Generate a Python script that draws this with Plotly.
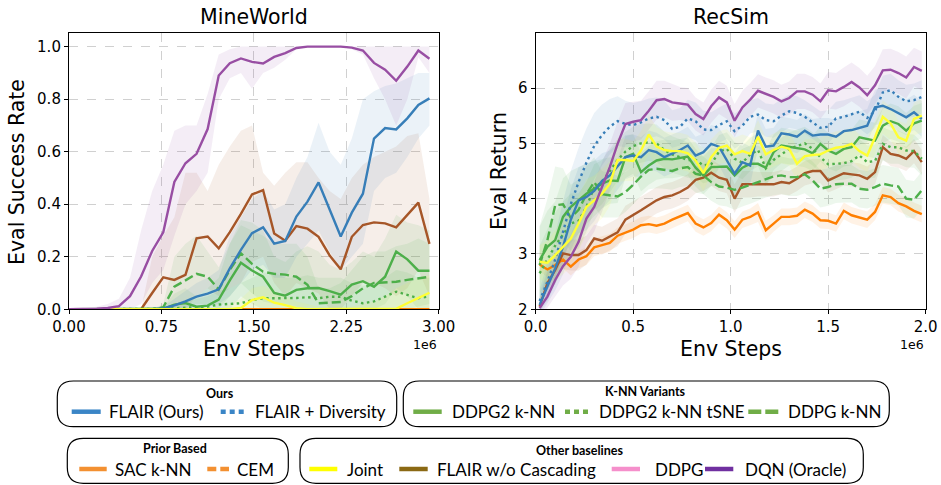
import plotly.graph_objects as go

W, H = 941, 485

# ---------------- data ----------------
mw_steps = [0, 45000, 135000, 225000, 315000, 405000, 495000, 585000, 675000, 765000,
            855000, 945000, 1035000, 1125000, 1215000, 1305000, 1395000, 1485000, 1575000,
            1665000, 1755000, 1845000, 1935000, 2025000, 2115000, 2205000, 2295000, 2385000,
            2475000, 2565000, 2655000, 2745000, 2835000, 2925000]

mw_dqn = [0, 0, 0.001, 0.002, 0.005, 0.012, 0.05, 0.125, 0.222, 0.293, 0.485, 0.556, 0.592, 0.686,
          0.89, 0.937, 0.955, 0.942, 0.936, 0.961, 0.975, 0.995, 1.0, 1.0, 1.0, 1.0, 0.996, 0.985,
          0.938, 0.912, 0.87, 0.924, 0.985, 0.954]
mw_dqn_lo = [0, 0, 0, 0, 0, 0, 0.0, 0.02, 0.1, 0.15, 0.28, 0.4, 0.45, 0.52, 0.8, 0.88, 0.9, 0.84,
             0.9, 0.92, 0.95, 0.99, 1, 1, 1, 1, 0.99, 0.97, 0.88, 0.8, 0.7, 0.8, 0.96, 0.9]
mw_dqn_hi = [0, 0, 0.005, 0.01, 0.02, 0.04, 0.12, 0.3, 0.45, 0.55, 0.68, 0.7, 0.7, 0.82, 0.97, 0.99,
             1.0, 1.0, 1.0, 1.0, 1.0, 1.0, 1, 1, 1, 1, 1.0, 1.0, 1.0, 1.0, 1.0, 1.0, 1.0, 1.0]

mw_flair = [0, 0, 0, 0, 0, 0, 0, 0, 0, 0.003, 0.015, 0.03, 0.048, 0.06, 0.076, 0.156, 0.226, 0.29,
            0.312, 0.25, 0.26, 0.353, 0.41, 0.483, 0.378, 0.277, 0.368, 0.44, 0.65, 0.69, 0.685,
            0.727, 0.778, 0.803]
mw_flair_lo = [0, 0, 0, 0, 0, 0, 0, 0, 0, 0, 0, 0, 0, 0.01, 0.02, 0.05, 0.1, 0.15, 0.17, 0.12, 0.12,
               0.2, 0.25, 0.3, 0.22, 0.15, 0.2, 0.25, 0.45, 0.5, 0.52, 0.58, 0.65, 0.7]
mw_flair_hi = [0, 0, 0, 0, 0, 0, 0, 0, 0, 0.01, 0.04, 0.07, 0.1, 0.12, 0.15, 0.28, 0.35, 0.42, 0.45,
               0.38, 0.4, 0.5, 0.58, 0.71, 0.6, 0.55, 0.65, 0.8, 0.83, 0.85, 0.86, 0.88, 0.9, 0.9]

mw_nocasc = [0, 0, 0, 0, 0, 0, 0, 0, 0.062, 0.122, 0.112, 0.131, 0.27, 0.277, 0.232, 0.294, 0.363,
             0.437, 0.454, 0.289, 0.261, 0.317, 0.307, 0.276, 0.205, 0.152, 0.276, 0.321, 0.331,
             0.327, 0.312, 0.357, 0.406, 0.249]
mw_nocasc_lo = [0, 0, 0, 0, 0, 0, 0, 0, 0, 0, 0, 0, 0.05, 0.08, 0.05, 0.08, 0.1, 0.18, 0.2, 0.1,
                0.05, 0.1, 0.08, 0.06, 0, 0, 0.05, 0.1, 0.1, 0.08, 0.05, 0.08, 0.15, 0.05]
mw_nocasc_hi = [0, 0, 0, 0, 0, 0, 0, 0, 0.2, 0.28, 0.35, 0.52, 0.52, 0.45, 0.55, 0.62, 0.68, 0.7,
                0.52, 0.47, 0.52, 0.56, 0.56, 0.5, 0.45, 0.42, 0.5, 0.55, 0.58, 0.6, 0.62, 0.66,
                0.67, 0.42]

mw_ddpg2 = [0, 0, 0, 0, 0, 0, 0, 0, 0, 0.002, 0.018, 0.024, 0.01, 0.014, 0.037, 0.11, 0.177, 0.148,
            0.124, 0.062, 0.052, 0.074, 0.08, 0.081, 0.069, 0.056, 0.094, 0.107, 0.086, 0.124,
            0.22, 0.19, 0.147, 0.147]
mw_ddpg2_lo = [0, 0, 0, 0, 0, 0, 0, 0, 0, 0, 0, 0, 0, 0, 0, 0, 0.05, 0.02, 0, 0, 0, 0, 0, 0, 0, 0,
               0, 0, 0, 0.02, 0.08, 0.05, 0, 0]
mw_ddpg2_hi = [0, 0, 0, 0, 0, 0, 0, 0, 0, 0.01, 0.06, 0.08, 0.05, 0.08, 0.12, 0.25, 0.34, 0.33,
               0.3, 0.2, 0.18, 0.22, 0.24, 0.22, 0.17, 0.15, 0.18, 0.22, 0.2, 0.27, 0.36, 0.33,
               0.32, 0.3]

mw_ddpg = [0, 0, 0, 0, 0, 0, 0, 0, 0, 0.008, 0.086, 0.11, 0.135, 0.124, 0.076, 0.15, 0.213, 0.173,
           0.143, 0.135, 0.132, 0.124, 0.093, 0.023, 0.025, 0.028, 0.05, 0.08, 0.1, 0.102, 0.105,
           0.112, 0.118, 0.124]
mw_ddpg_lo = [0, 0, 0, 0, 0, 0, 0, 0, 0, 0, 0, 0, 0.02, 0.02, 0, 0.05, 0.1, 0.06, 0.03, 0.02, 0.02,
              0.01, 0, 0, 0, 0, 0, 0, 0, 0, 0, 0, 0.01, 0.02]
mw_ddpg_hi = [0, 0, 0, 0, 0, 0, 0, 0, 0, 0.02, 0.2, 0.25, 0.28, 0.22, 0.16, 0.25, 0.32, 0.3, 0.28,
              0.25, 0.25, 0.25, 0.2, 0.08, 0.08, 0.1, 0.15, 0.2, 0.22, 0.22, 0.24, 0.25, 0.27, 0.25]

mw_tsne = [0, 0, 0, 0, 0, 0, 0, 0, 0, 0.002, 0.004, 0.006, 0.008, 0.01, 0.018, 0.02, 0.023, 0.035,
           0.042, 0.042, 0.042, 0.043, 0.046, 0.042, 0.048, 0.048, 0.033, 0.023, 0.03, 0.048,
           0.067, 0.055, 0.042, 0.05]
mw_tsne_lo = [0, 0, 0, 0, 0, 0, 0, 0, 0, 0, 0, 0, 0, 0, 0, 0, 0, 0, 0, 0, 0, 0, 0, 0, 0, 0, 0, 0,
              0, 0, 0, 0, 0, 0]
mw_tsne_hi = [0, 0, 0, 0, 0, 0, 0, 0, 0, 0.01, 0.02, 0.03, 0.04, 0.05, 0.07, 0.08, 0.1, 0.12, 0.14,
              0.14, 0.12, 0.12, 0.13, 0.12, 0.12, 0.12, 0.1, 0.09, 0.1, 0.12, 0.15, 0.14, 0.12, 0.12]

mw_joint = [0, 0, 0, 0, 0, 0, 0, 0, 0, 0, 0, 0, 0, 0, 0, 0, 0.005, 0.035, 0.046, 0.025, 0.016,
            0.004, 0, 0, 0, 0, 0, 0, 0, 0, 0.002, 0.023, 0.042, 0.063]
mw_joint_lo = [0, 0, 0, 0, 0, 0, 0, 0, 0, 0, 0, 0, 0, 0, 0, 0, 0, 0, 0, 0, 0, 0, 0, 0, 0, 0, 0, 0,
               0, 0, 0, 0, 0, 0]
mw_joint_hi = [0, 0, 0, 0, 0, 0, 0, 0, 0, 0, 0, 0, 0, 0, 0, 0.02, 0.04, 0.08, 0.09, 0.07, 0.05,
               0.03, 0.02, 0.01, 0.01, 0.01, 0.01, 0.02, 0.03, 0.05, 0.08, 0.1, 0.12, 0.13]

mw_sac = [0, 0, 0, 0, 0, 0, 0, 0, 0, 0, 0, 0, 0, 0, 0, 0, 0, 0, 0, 0, 0, 0, 0, 0, 0, 0, 0, 0, 0, 0,
          0, 0, 0, 0]

rs_steps = [20000, 60000, 100000, 140000, 180000, 220000, 260000, 300000, 340000, 380000,
            420000, 460000, 500000, 540000, 580000, 620000, 660000, 700000, 740000, 780000,
            820000, 860000, 900000, 940000, 980000, 1020000, 1060000, 1100000, 1140000, 1180000,
            1220000, 1260000, 1300000, 1340000, 1380000, 1420000, 1460000, 1500000, 1540000,
            1580000, 1620000, 1660000, 1700000, 1740000, 1780000, 1820000, 1860000, 1900000,
            1940000, 1980000]

rs_dqn = [2.02, 2.23, 2.53, 2.78, 2.95, 3.22, 3.64, 3.85, 4.21, 4.57,
          4.99, 5.35, 5.39, 5.42, 5.59, 5.78, 5.80, 5.74, 5.72, 5.70,
          5.53, 5.44, 5.67, 5.83, 5.74, 5.41, 5.65, 5.79, 5.95, 5.89,
          5.84, 5.76, 5.82, 5.94, 5.94, 5.88, 5.76, 5.96, 5.94, 6.02,
          6.11, 6.01, 5.87, 6.05, 6.32, 6.33, 6.27, 6.19, 6.38, 6.31]
rs_dqn_sd = [0.15, 0.2, 0.3, 0.35, 0.4, 0.45, 0.45, 0.45, 0.45, 0.42,
             0.4, 0.38, 0.36, 0.35, 0.35, 0.35, 0.33, 0.33, 0.3, 0.3,
             0.3, 0.3, 0.3, 0.3, 0.3, 0.3, 0.3, 0.3, 0.3, 0.3,
             0.3, 0.3, 0.3, 0.32, 0.32, 0.32, 0.32, 0.33, 0.33, 0.35,
             0.35, 0.35, 0.35, 0.35, 0.38, 0.38, 0.38, 0.38, 0.35, 0.35]

rs_flair = [2.08, 2.41, 2.74, 3.13, 3.62, 3.97, 4.03, 4.14, 4.32, 4.42,
            4.58, 4.75, 4.78, 4.75, 4.88, 4.84, 4.75, 4.81, 4.88, 4.96,
            4.78, 4.84, 4.99, 4.94, 4.69, 4.45, 4.66, 4.6, 5.23, 4.94,
            4.96, 5.18, 5.16, 5.12, 5.23, 5.14, 5.16, 5.16, 5.12, 5.22,
            5.24, 5.28, 5.32, 5.65, 5.68, 5.62, 5.54, 5.47, 5.56, 5.44]
rs_flair_sd = [0.2, 0.3, 0.4, 0.5, 0.55, 0.6, 0.6, 0.55, 0.5, 0.45,
               0.42, 0.4, 0.38, 0.36, 0.35, 0.35, 0.35, 0.35, 0.34, 0.34,
               0.34, 0.34, 0.34, 0.34, 0.36, 0.38, 0.36, 0.34, 0.32, 0.32,
               0.32, 0.3, 0.3, 0.3, 0.3, 0.3, 0.3, 0.3, 0.3, 0.3,
               0.3, 0.3, 0.3, 0.32, 0.32, 0.32, 0.32, 0.32, 0.32, 0.32]

rs_div = [2.15, 2.5, 2.9, 3.4, 3.9, 4.3, 4.65, 4.95, 5.15, 5.3,
          5.4, 5.35, 5.33, 5.38, 5.45, 5.48, 5.42, 5.26, 5.3, 5.45,
          5.4, 5.25, 5.24, 5.33, 5.4, 5.22, 5.32, 5.48, 5.52, 5.42,
          5.4, 5.5, 5.58, 5.55, 5.48, 5.38, 5.28, 5.3, 5.45, 5.48,
          5.53, 5.57, 5.46, 5.58, 5.92, 5.96, 5.84, 5.76, 5.78, 5.84]
rs_div_sd = [0.2, 0.35, 0.45, 0.55, 0.6, 0.62, 0.62, 0.6, 0.55, 0.5,
             0.45, 0.42, 0.4, 0.38, 0.36, 0.35, 0.35, 0.34, 0.34, 0.34,
             0.34, 0.34, 0.32, 0.32, 0.32, 0.32, 0.32, 0.3, 0.3, 0.3,
             0.3, 0.3, 0.3, 0.3, 0.3, 0.3, 0.3, 0.3, 0.3, 0.3,
             0.3, 0.3, 0.3, 0.3, 0.3, 0.3, 0.3, 0.3, 0.3, 0.3]

rs_joint = [2.86, 2.84, 2.98, 3.13, 3.28, 3.55, 3.85, 3.97, 4.09, 4.27,
            4.7, 4.7, 4.68, 4.87, 5.16, 4.94, 4.88, 4.86, 4.86, 4.82,
            4.69, 4.46, 4.75, 4.92, 4.96, 4.8, 4.86, 4.81, 5.12, 4.8,
            4.88, 4.94, 4.9, 4.63, 4.77, 4.79, 4.8, 4.87, 4.92, 4.94,
            4.99, 4.86, 4.78, 5.11, 5.48, 5.36, 5.11, 5.05, 5.44, 5.5]
rs_joint_sd = [0.3, 0.4, 0.45, 0.5, 0.5, 0.5, 0.5, 0.45, 0.45, 0.4,
               0.4, 0.38, 0.36, 0.35, 0.35, 0.35, 0.34, 0.33, 0.33, 0.33,
               0.32, 0.32, 0.32, 0.3, 0.3, 0.3, 0.3, 0.3, 0.3, 0.3,
               0.3, 0.3, 0.3, 0.3, 0.3, 0.3, 0.3, 0.3, 0.3, 0.3,
               0.3, 0.3, 0.3, 0.3, 0.3, 0.3, 0.3, 0.3, 0.3, 0.3]

rs_ddpg2 = [2.89, 3.13, 3.25, 3.67, 3.85, 3.97, 4.09, 4.18, 4.27, 4.33,
            4.32, 4.75, 4.81, 4.48, 4.6, 4.69, 4.72, 4.71, 4.74, 4.76,
            4.56, 4.42, 4.57, 4.58, 4.58, 4.42, 4.56, 4.63, 4.63, 4.56,
            4.84, 4.96, 4.94, 4.92, 4.89, 4.82, 4.99, 4.87, 4.81, 4.9,
            4.93, 5.11, 5.08, 5.05, 5.32, 5.4, 5.35, 5.23, 5.36, 5.41]
rs_ddpg2_sd = [0.6, 0.65, 0.7, 0.7, 0.65, 0.6, 0.55, 0.5, 0.45, 0.42,
               0.4, 0.38, 0.36, 0.35, 0.35, 0.35, 0.35, 0.34, 0.34, 0.34,
               0.34, 0.34, 0.34, 0.34, 0.34, 0.36, 0.34, 0.33, 0.33, 0.33,
               0.32, 0.32, 0.32, 0.32, 0.32, 0.32, 0.32, 0.32, 0.32, 0.32,
               0.32, 0.32, 0.32, 0.32, 0.32, 0.32, 0.32, 0.32, 0.32, 0.32]

rs_tsne = [2.65, 2.9, 3.15, 3.35, 3.55, 3.6, 3.85, 4.2, 4.3, 4.5,
           4.7, 4.85, 4.95, 5.0, 5.02, 5.0, 4.88, 4.8, 4.75, 4.7,
           4.7, 4.6, 4.62, 4.85, 4.9, 4.72, 4.65, 4.8, 4.88, 4.55,
           4.7, 4.8, 4.9, 4.95, 5.0, 4.9, 4.75, 4.62, 4.63, 4.64,
           4.68, 4.78, 4.66, 4.68, 4.99, 4.93, 4.93, 4.87, 4.86, 4.72]
rs_tsne_sd = [0.5, 0.55, 0.6, 0.6, 0.55, 0.5, 0.45, 0.42, 0.4, 0.4,
              0.38, 0.36, 0.35, 0.35, 0.34, 0.34, 0.33, 0.33, 0.32, 0.32,
              0.32, 0.32, 0.3, 0.3, 0.3, 0.3, 0.3, 0.3, 0.3, 0.3,
              0.3, 0.3, 0.3, 0.3, 0.3, 0.3, 0.3, 0.3, 0.3, 0.3,
              0.3, 0.3, 0.3, 0.3, 0.3, 0.3, 0.3, 0.3, 0.3, 0.3]

rs_ddpg = [2.8, 3.25, 3.88, 3.9, 3.65, 3.8, 4.08, 4.3, 4.08, 4.06,
           4.04, 4.12, 4.25, 4.4, 4.52, 4.54, 4.52, 4.5, 4.55, 4.57,
           4.45, 4.42, 4.3, 4.22, 4.2, 4.16, 4.2, 4.25, 4.3, 4.36,
           4.4, 4.42, 4.39, 4.39, 4.44, 4.33, 4.18, 4.21, 4.26, 4.27,
           4.27, 4.18, 4.16, 4.21, 4.27, 4.24, 4.22, 4.0, 3.98, 4.15]
rs_ddpg_sd = [0.7, 0.75, 0.7, 0.65, 0.6, 0.55, 0.5, 0.45, 0.42, 0.4,
              0.38, 0.36, 0.35, 0.35, 0.35, 0.35, 0.34, 0.34, 0.34, 0.34,
              0.34, 0.34, 0.34, 0.34, 0.34, 0.36, 0.34, 0.34, 0.34, 0.34,
              0.34, 0.34, 0.34, 0.34, 0.34, 0.34, 0.34, 0.34, 0.34, 0.34,
              0.34, 0.34, 0.34, 0.34, 0.34, 0.34, 0.34, 0.34, 0.34, 0.34]

rs_nocasc = [2.05, 2.47, 2.71, 3.01, 2.98, 2.98, 3.07, 3.28, 3.24, 3.31,
             3.39, 3.62, 3.70, 3.79, 3.88, 3.97, 4.03, 4.06, 4.12, 4.2,
             4.34, 4.38, 4.47, 4.38, 4.34, 4.0, 4.26, 4.26, 4.26, 4.26,
             4.26, 4.3, 4.28, 4.36, 4.46, 4.5, 4.5, 4.33, 4.39, 4.46,
             4.44, 4.42, 4.36, 4.48, 4.93, 4.81, 4.78, 4.72, 4.86, 4.66]
rs_nocasc_sd = [0.15, 0.2, 0.25, 0.28, 0.28, 0.28, 0.26, 0.25, 0.25, 0.25,
                0.25, 0.25, 0.25, 0.25, 0.24, 0.24, 0.24, 0.24, 0.24, 0.24,
                0.24, 0.24, 0.24, 0.24, 0.24, 0.26, 0.24, 0.24, 0.22, 0.22,
                0.22, 0.22, 0.22, 0.22, 0.22, 0.22, 0.22, 0.22, 0.22, 0.22,
                0.22, 0.22, 0.22, 0.22, 0.22, 0.22, 0.22, 0.22, 0.22, 0.22]

rs_sac = [2.81, 2.72, 2.80, 2.90, 2.77, 2.90, 2.96, 3.12, 3.16, 3.20,
          3.33, 3.39, 3.44, 3.52, 3.54, 3.51, 3.55, 3.62, 3.68, 3.74,
          3.55, 3.48, 3.56, 3.71, 3.61, 3.44, 3.62, 3.67, 3.75, 3.43,
          3.55, 3.67, 3.67, 3.69, 3.80, 3.73, 3.61, 3.60, 3.55, 3.78,
          3.70, 3.66, 3.62, 3.76, 4.06, 4.03, 3.92, 3.86, 3.78, 3.72]
rs_sac_sd = [0.12, 0.14, 0.15, 0.16, 0.16, 0.16, 0.16, 0.16, 0.16, 0.16,
             0.15, 0.15, 0.15, 0.15, 0.15, 0.15, 0.15, 0.15, 0.15, 0.15,
             0.15, 0.15, 0.15, 0.15, 0.15, 0.15, 0.15, 0.15, 0.17, 0.17,
             0.15, 0.15, 0.15, 0.15, 0.15, 0.15, 0.15, 0.15, 0.15, 0.15,
             0.15, 0.15, 0.15, 0.15, 0.15, 0.15, 0.15, 0.15, 0.15, 0.15]

mw_xticks = [0, 750000, 1500000, 2250000, 3000000]
mw_xticklabels = ["0.00", "0.75", "1.50", "2.25", "3.00"]
mw_yticks = [0, 0.2, 0.4, 0.6, 0.8, 1.0]
mw_yticklabels = ["0.0", "0.2", "0.4", "0.6", "0.8", "1.0"]
rs_xticks = [0, 500000, 1000000, 1500000, 2000000]
rs_xticklabels = ["0.0", "0.5", "1.0", "1.5", "2.0"]
rs_yticks = [2, 3, 4, 5, 6]
rs_yticklabels = ["2", "3", "4", "5", "6"]

# ---------------- styles ----------------
C = {
    "blue": "#377eb8", "green": "#4daf4a", "purple": "#984ea3", "orange": "#ff7f00",
    "yellow": "#ffff33", "brown": "#a65628",
}


def rgba(hexc, a):
    h = hexc.lstrip("#")
    return "rgba(%d,%d,%d,%.3f)" % (int(h[0:2], 16), int(h[2:4], 16), int(h[4:6], 16), a)


fig = go.Figure()


def band(x, lo, hi, color, xa, ya, alpha=0.1):
    fig.add_trace(go.Scatter(x=list(x) + list(x)[::-1], y=list(hi) + list(lo)[::-1],
                             fill="toself", fillcolor=rgba(color, alpha), line=dict(width=0),
                             hoverinfo="skip", showlegend=False, xaxis=xa, yaxis=ya, mode="lines"))


def line(x, y, color, dash, xa, ya, width=2.4):
    fig.add_trace(go.Scatter(x=x, y=y, mode="lines", line=dict(color=color, width=width, dash=dash),
                             showlegend=False, xaxis=xa, yaxis=ya))


DOT = "2.5px,3.5px"
DASH = "9px,4px"

# MineWorld
mw_series = [
    (mw_sac, mw_sac, mw_sac, "orange", "solid"),
    (mw_nocasc, mw_nocasc_lo, mw_nocasc_hi, "brown", "solid"),
    (mw_ddpg, mw_ddpg_lo, mw_ddpg_hi, "green", DASH),
    (mw_tsne, mw_tsne_lo, mw_tsne_hi, "green", DOT),
    (mw_ddpg2, mw_ddpg2_lo, mw_ddpg2_hi, "green", "solid"),
    (mw_flair, mw_flair_lo, mw_flair_hi, "blue", "solid"),
    (mw_joint, mw_joint_lo, mw_joint_hi, "yellow", "solid"),
    (mw_dqn, mw_dqn_lo, mw_dqn_hi, "purple", "solid"),
]
for y, lo, hi, c, d in mw_series:
    band(mw_steps, lo, hi, C[c], "x", "y")
for y, lo, hi, c, d in mw_series:
    line(mw_steps, y, C[c], d, "x", "y")

# RecSim
rs_series = [
    (rs_sac, rs_sac_sd, "orange", "solid"),
    (rs_nocasc, rs_nocasc_sd, "brown", "solid"),
    (rs_ddpg, rs_ddpg_sd, "green", DASH),
    (rs_tsne, rs_tsne_sd, "green", DOT),
    (rs_ddpg2, rs_ddpg2_sd, "green", "solid"),
    (rs_div, rs_div_sd, "blue", DOT),
    (rs_flair, rs_flair_sd, "blue", "solid"),
    (rs_joint, rs_joint_sd, "yellow", "solid"),
    (rs_dqn, rs_dqn_sd, "purple", "solid"),
]
for y, sd, c, d in rs_series:
    lo = [a - b for a, b in zip(y, sd)]
    hi = [a + b for a, b in zip(y, sd)]
    band(rs_steps, lo, hi, C[c], "x2", "y2")
for y, sd, c, d in rs_series:
    line(rs_steps, y, C[c], d, "x2", "y2")

# ---------------- layout ----------------
FONT = "DejaVu Sans"


def px_x(p):
    return p / W


def px_y(p):
    return 1 - p / H


L1, R1, L2, R2 = 69, 438.7, 535.7, 925.7
T, B = 32.7, 309.3

axis_common = dict(showline=True, mirror=True, linecolor="black", linewidth=1.1,
                   ticks="outside", ticklen=4, tickwidth=1, tickcolor="black",
                   showgrid=True, gridcolor="#d0d0d0", griddash="dash", gridwidth=1,
                   zeroline=False, automargin=False,
                   tickfont=dict(family=FONT, size=15, color="black"))

fig.update_layout(
    width=W, height=H, margin=dict(l=0, r=0, t=0, b=0, pad=0), autosize=False,
    paper_bgcolor="white", plot_bgcolor="white", showlegend=False,
    xaxis=dict(domain=[px_x(L1), px_x(R1)], range=[0, 3000000], tickvals=mw_xticks,
               ticktext=mw_xticklabels, anchor="y", **axis_common),
    yaxis=dict(domain=[px_y(B), px_y(T)], range=[0, 1.053], tickvals=mw_yticks,
               ticktext=mw_yticklabels, anchor="x", **axis_common),
    xaxis2=dict(domain=[px_x(L2), px_x(R2)], range=[0, 2000000], tickvals=rs_xticks,
                ticktext=rs_xticklabels, anchor="y2", **axis_common),
    yaxis2=dict(domain=[px_y(B), px_y(T)], range=[2, 7], tickvals=rs_yticks,
                ticktext=rs_yticklabels, anchor="x2", **axis_common),
)

ann = []


def text(x, y, s, size, family=FONT, xanchor="center", angle=0, bold=False, color="black"):
    ann.append(dict(x=px_x(x), y=px_y(y), xref="paper", yref="paper",
                    text=("<b>%s</b>" % s) if bold else s,
                    showarrow=False, xanchor=xanchor, yanchor="middle", textangle=angle,
                    font=dict(family=family, size=size, color=color)))


text((L1 + R1) / 2, 17.5, "MineWorld", 20.5)
text((L2 + R2) / 2, 17.5, "RecSim", 20.5)
text((L1 + R1) / 2, 349, "Env Steps", 20.5)
text((L2 + R2) / 2, 349, "Env Steps", 20.5)
text(17, 172, "Eval Success Rate", 20.5, angle=-90)
text(499, 171, "Eval Return", 20.5, angle=-90)
text(R1, 344, "1e6", 12.5, xanchor="right")
text(R2, 344, "1e6", 12.5, xanchor="right")

# ---------------- custom legend ----------------
shapes = []


def rrect(x0, y0, x1, y1, r):
    def P(x, y):
        return "%.5f,%.5f" % (px_x(x), px_y(y))
    path = ("M %s L %s Q %s %s L %s Q %s %s L %s Q %s %s L %s Q %s %s Z" % (
        P(x0 + r, y0), P(x1 - r, y0), P(x1, y0), P(x1, y0 + r), P(x1, y1 - r), P(x1, y1),
        P(x1 - r, y1), P(x0 + r, y1), P(x0, y1), P(x0, y1 - r), P(x0, y0 + r), P(x0, y0),
        P(x0 + r, y0)))
    shapes.append(dict(type="path", path=path, xref="paper", yref="paper",
                       line=dict(color="black", width=1.2), fillcolor="rgba(0,0,0,0)"))


LEG_FONT = "Lato"
LC = {"blue": "#3a85c6", "green": "#70ad47", "orange": "#f39031", "yellow": "#ffff00",
      "brown": "#8b6914", "pink": "#f58fcb", "purple": "#7030a0"}


def entry(x0, x1, y, color, dash, label, tx):
    shapes.append(dict(type="line", xref="paper", yref="paper", x0=px_x(x0), x1=px_x(x1),
                       y0=px_y(y), y1=px_y(y), line=dict(color=color, width=4.5, dash=dash)))
    text(tx, y, label, 17, family=LEG_FONT, xanchor="left")


rrect(57.3, 381, 396.7, 426.7, 16)
rrect(403.3, 381, 889.3, 426.7, 16)
rrect(67.3, 438.3, 288.3, 483.3, 16)
rrect(300, 438.3, 863.3, 483.3, 16)

text(220, 393.3, "Ours", 12.5, family=LEG_FONT, bold=True)
text(645, 391.7, "K-NN Variants", 12.5, family=LEG_FONT, bold=True)
text(175, 448, "Prior Based", 12.5, family=LEG_FONT, bold=True)
text(580, 450, "Other baselines", 12.5, family=LEG_FONT, bold=True)

r1, r2 = 411.7, 469
entry(71.7, 100.7, r1, LC["blue"], "solid", "FLAIR (Ours)", 107.3)
entry(220.7, 246.7, r1, LC["blue"], "5px,4px", "FLAIR + Diversity", 253.3)
entry(413.3, 441.7, r1, LC["green"], "solid", "DDPG2 k-NN", 450)
entry(565, 590, r1, LC["green"], "5px,4px", "DDPG2 k-NN tSNE", 597.3)
entry(748.3, 780, r1, LC["green"], "13px,4px", "DDPG k-NN", 786)
entry(79.3, 106.7, r2, LC["orange"], "solid", "SAC k-NN", 113.3)
entry(207.3, 229, r2, LC["orange"], "9px,4px", "CEM", 235)
entry(309.3, 337.3, r2, LC["yellow"], "solid", "Joint", 345)
entry(399.3, 427.7, r2, LC["brown"], "solid", "FLAIR w/o Cascading", 435)
entry(611.7, 640, r2, LC["pink"], "solid", "DDPG", 652.7)
entry(705, 733.3, r2, LC["purple"], "solid", "DQN (Oracle)", 743.3)

fig.update_layout(annotations=ann, shapes=shapes)

fig.write_html("out.html", config={"displayModeBar": False},
               post_script="document.body.style.margin='0';")
